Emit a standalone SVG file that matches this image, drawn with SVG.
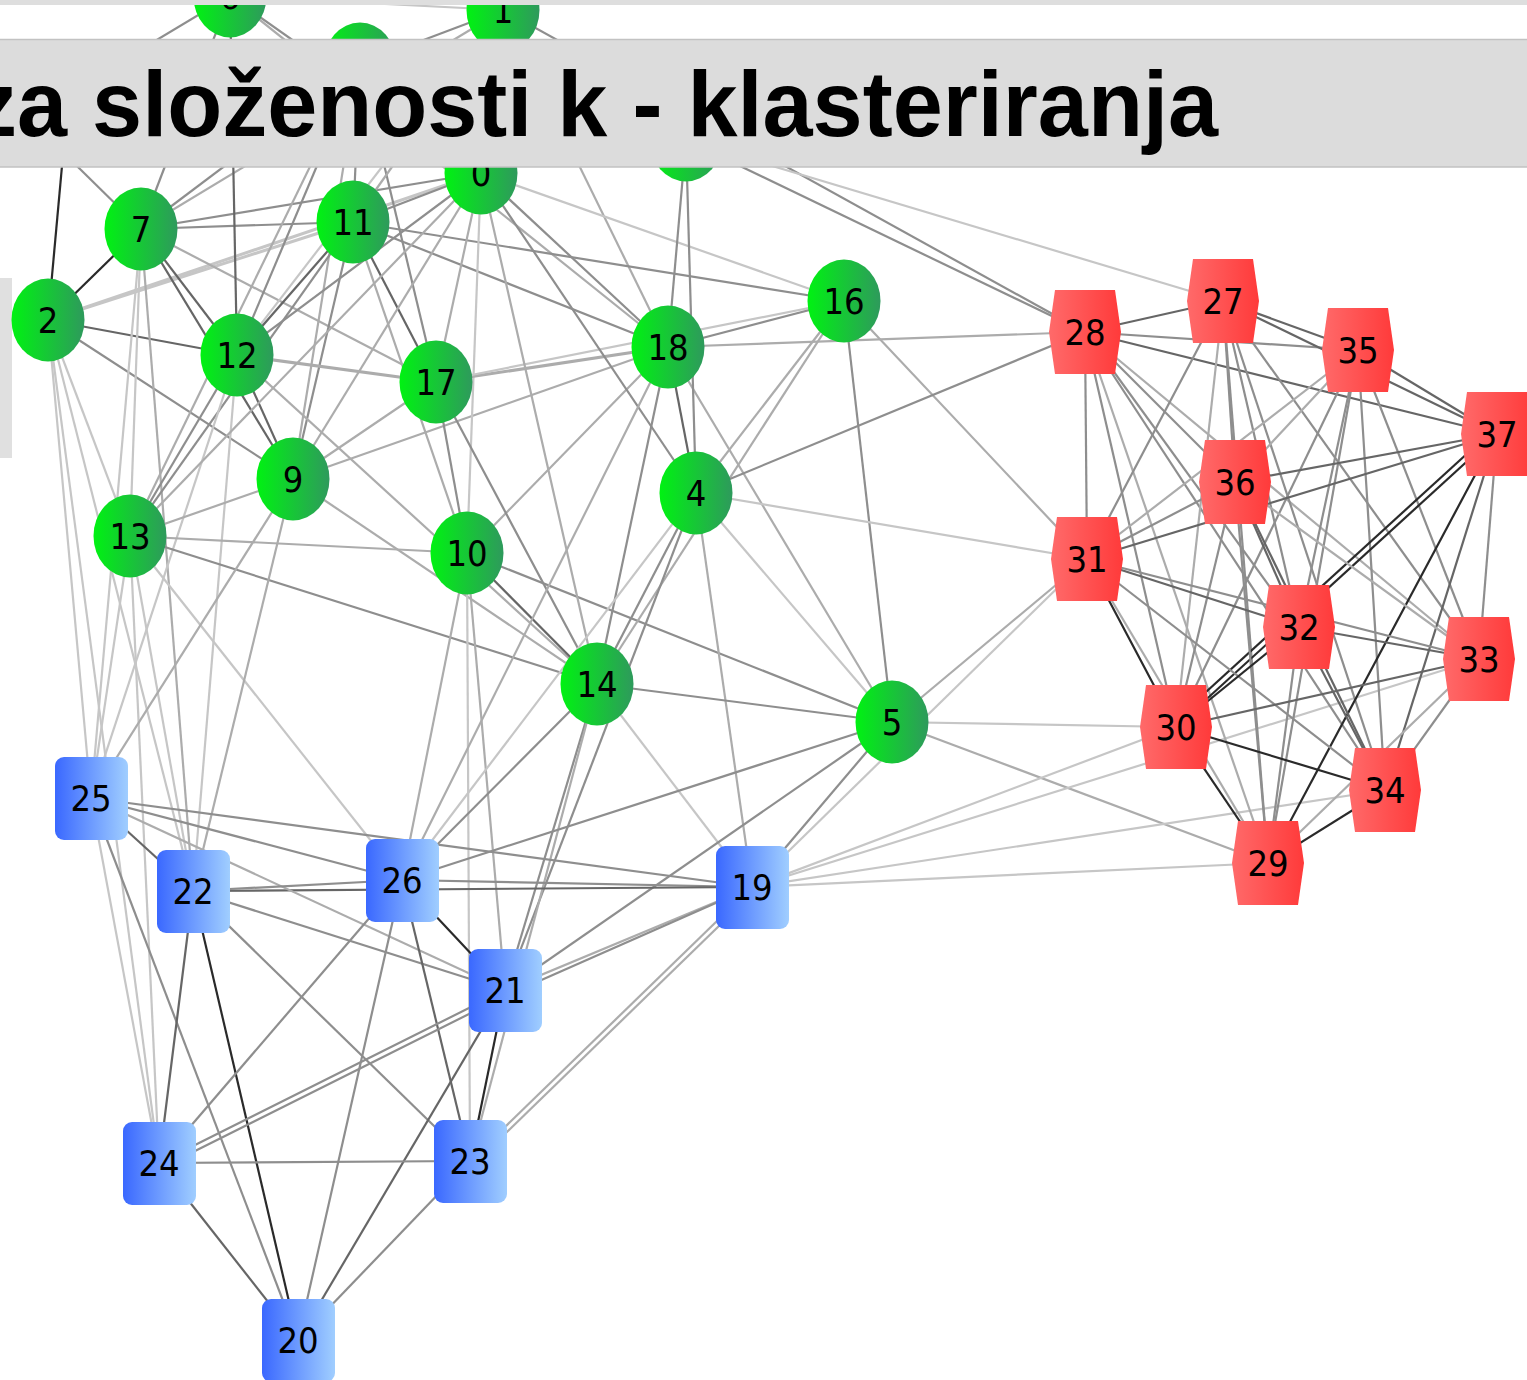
<svg xmlns="http://www.w3.org/2000/svg" width="1527" height="1380" viewBox="0 0 1527 1380">
<defs>
<linearGradient id="gGreen" x1="0" y1="0" x2="1" y2="0"><stop offset="0" stop-color="#00f212"/><stop offset="1" stop-color="#2e9a5c"/></linearGradient>
<linearGradient id="gBlue" x1="0" y1="0" x2="1" y2="0"><stop offset="0" stop-color="#3a68ff"/><stop offset="1" stop-color="#a0ceff"/></linearGradient>
<linearGradient id="gRed" x1="0" y1="0" x2="1" y2="0"><stop offset="0" stop-color="#ff6a6a"/><stop offset="1" stop-color="#ff3a3a"/></linearGradient>
<style>
.e line{stroke-width:2.2;fill:none}
.k{stroke:#2a2a2a}
.d{stroke:#666}
.m{stroke:#8e8e8e}
.l{stroke:#acacac}
.v{stroke:#c6c6c6}
.gn{fill:url(#gGreen)}
.bn{fill:url(#gBlue)}
.rn{fill:url(#gRed)}
.lb{font-family:"DejaVu Sans Condensed","DejaVu Sans",sans-serif;font-size:36px;fill:#000;text-anchor:middle}
.title{font-family:"Liberation Sans",Arial,sans-serif;font-size:92px;font-weight:bold;fill:#000}
</style>
</defs>
<rect width="1527" height="1380" fill="#fff"/>
<!-- side panel on the left edge -->
<rect x="0" y="278" width="12" height="180" fill="#e0e0e0"/>
<g id="edges" class="e">
<!-- green cluster -->
<line class="k" x1="48" y1="320" x2="141" y2="229"/>
<line class="k" x1="48" y1="320" x2="68" y2="100"/>
<line class="d" x1="48" y1="320" x2="237" y2="355"/>
<line class="v" x1="48" y1="320" x2="353" y2="222" style="stroke-width:3"/>
<line class="v" x1="48" y1="320" x2="481" y2="173" style="stroke-width:3"/>
<line class="m" x1="48" y1="320" x2="293" y2="479"/>
<line class="v" x1="48" y1="320" x2="130" y2="536"/>
<line class="v" x1="48" y1="320" x2="91" y2="798"/>
<line class="v" x1="48" y1="320" x2="193" y2="891"/>
<line class="v" x1="48" y1="320" x2="159" y2="1163"/>
<line class="m" x1="141" y1="229" x2="20" y2="110"/>
<line class="m" x1="141" y1="229" x2="230" y2="-4"/>
<line class="d" x1="141" y1="229" x2="237" y2="355"/>
<line class="d" x1="141" y1="229" x2="293" y2="479"/>
<line class="m" x1="141" y1="229" x2="353" y2="222"/>
<line class="m" x1="141" y1="229" x2="481" y2="173"/>
<line class="l" x1="141" y1="229" x2="503" y2="10"/>
<line class="m" x1="141" y1="229" x2="360" y2="64"/>
<line class="v" x1="141" y1="229" x2="130" y2="536"/>
<line class="l" x1="141" y1="229" x2="436" y2="382"/>
<line class="v" x1="141" y1="229" x2="91" y2="798"/>
<line class="l" x1="141" y1="229" x2="193" y2="891"/>
<line class="d" x1="230" y1="-4" x2="237" y2="355"/>
<line class="m" x1="230" y1="-4" x2="40" y2="110"/>
<line class="v" x1="230" y1="-4" x2="503" y2="10"/>
<line class="m" x1="230" y1="-4" x2="481" y2="173"/>
<line class="l" x1="230" y1="-4" x2="668" y2="347"/>
<line class="m" x1="360" y1="64" x2="503" y2="10"/>
<line class="m" x1="360" y1="64" x2="353" y2="222"/>
<line class="m" x1="360" y1="64" x2="237" y2="355"/>
<line class="l" x1="360" y1="64" x2="130" y2="536"/>
<line class="l" x1="360" y1="64" x2="481" y2="173"/>
<line class="l" x1="360" y1="64" x2="293" y2="479"/>
<line class="m" x1="360" y1="64" x2="436" y2="382"/>
<line class="l" x1="503" y1="10" x2="353" y2="222"/>
<line class="l" x1="503" y1="10" x2="481" y2="173"/>
<line class="v" x1="503" y1="10" x2="237" y2="355"/>
<line class="m" x1="503" y1="10" x2="1085" y2="332"/>
<line class="l" x1="503" y1="10" x2="668" y2="347"/>
<line class="d" x1="353" y1="222" x2="237" y2="355"/>
<line class="d" x1="353" y1="222" x2="436" y2="382"/>
<line class="m" x1="353" y1="222" x2="481" y2="173"/>
<line class="m" x1="353" y1="222" x2="130" y2="536"/>
<line class="m" x1="353" y1="222" x2="293" y2="479"/>
<line class="m" x1="353" y1="222" x2="844" y2="301"/>
<line class="m" x1="353" y1="222" x2="668" y2="347"/>
<line class="l" x1="353" y1="222" x2="467" y2="553"/>
<line class="l" x1="237" y1="355" x2="436" y2="382" style="stroke-width:3.2"/>
<line class="m" x1="237" y1="355" x2="130" y2="536"/>
<line class="d" x1="237" y1="355" x2="293" y2="479"/>
<line class="m" x1="237" y1="355" x2="481" y2="173"/>
<line class="v" x1="237" y1="355" x2="193" y2="891"/>
<line class="v" x1="237" y1="355" x2="91" y2="798"/>
<line class="l" x1="237" y1="355" x2="597" y2="684"/>
<line class="l" x1="130" y1="536" x2="293" y2="479"/>
<line class="l" x1="130" y1="536" x2="467" y2="553"/>
<line class="m" x1="130" y1="536" x2="597" y2="684"/>
<line class="l" x1="130" y1="536" x2="481" y2="173"/>
<line class="v" x1="130" y1="536" x2="91" y2="798"/>
<line class="v" x1="130" y1="536" x2="193" y2="891"/>
<line class="v" x1="130" y1="536" x2="159" y2="1163"/>
<line class="v" x1="130" y1="536" x2="402" y2="880"/>
<line class="l" x1="293" y1="479" x2="436" y2="382"/>
<line class="l" x1="293" y1="479" x2="481" y2="173"/>
<line class="l" x1="293" y1="479" x2="668" y2="347"/>
<line class="l" x1="293" y1="479" x2="597" y2="684"/>
<line class="l" x1="293" y1="479" x2="91" y2="798"/>
<line class="l" x1="293" y1="479" x2="193" y2="891"/>
<line class="m" x1="467" y1="553" x2="436" y2="382"/>
<line class="v" x1="467" y1="553" x2="481" y2="173"/>
<line class="d" x1="467" y1="553" x2="597" y2="684"/>
<line class="l" x1="467" y1="553" x2="668" y2="347"/>
<line class="m" x1="467" y1="553" x2="892" y2="722"/>
<line class="l" x1="467" y1="553" x2="402" y2="880"/>
<line class="l" x1="467" y1="553" x2="505" y2="990"/>
<line class="v" x1="467" y1="553" x2="470" y2="1161"/>
<line class="l" x1="436" y1="382" x2="668" y2="347" style="stroke-width:3"/>
<line class="l" x1="436" y1="382" x2="481" y2="173"/>
<line class="m" x1="436" y1="382" x2="597" y2="684"/>
<line class="v" x1="436" y1="382" x2="844" y2="301"/>
<line class="m" x1="481" y1="173" x2="668" y2="347"/>
<line class="m" x1="481" y1="173" x2="696" y2="493"/>
<line class="l" x1="481" y1="173" x2="597" y2="684"/>
<line class="v" x1="481" y1="173" x2="844" y2="301"/>
<line class="m" x1="668" y1="347" x2="844" y2="301"/>
<line class="d" x1="668" y1="347" x2="696" y2="493"/>
<line class="l" x1="668" y1="347" x2="1085" y2="332"/>
<line class="m" x1="668" y1="347" x2="597" y2="684"/>
<line class="l" x1="668" y1="347" x2="402" y2="880"/>
<line class="l" x1="668" y1="347" x2="892" y2="722"/>
<line class="m" x1="668" y1="347" x2="686" y2="140"/>
<line class="l" x1="844" y1="301" x2="696" y2="493"/>
<line class="l" x1="844" y1="301" x2="597" y2="684"/>
<line class="m" x1="844" y1="301" x2="892" y2="722"/>
<line class="l" x1="844" y1="301" x2="1087" y2="559"/>
<line class="m" x1="696" y1="493" x2="686" y2="140"/>
<line class="m" x1="696" y1="493" x2="597" y2="684"/>
<line class="m" x1="696" y1="493" x2="505" y2="990"/>
<line class="v" x1="696" y1="493" x2="892" y2="722"/>
<line class="v" x1="696" y1="493" x2="1087" y2="559"/>
<line class="m" x1="696" y1="493" x2="1085" y2="332"/>
<line class="v" x1="696" y1="493" x2="402" y2="880"/>
<line class="l" x1="696" y1="493" x2="752" y2="887"/>
<line class="m" x1="597" y1="684" x2="892" y2="722"/>
<line class="v" x1="597" y1="684" x2="752" y2="887"/>
<line class="m" x1="597" y1="684" x2="402" y2="880"/>
<line class="m" x1="597" y1="684" x2="505" y2="990"/>
<line class="l" x1="597" y1="684" x2="470" y2="1161"/>
<line class="v" x1="892" y1="722" x2="1176" y2="727"/>
<line class="l" x1="892" y1="722" x2="1087" y2="559"/>
<line class="l" x1="892" y1="722" x2="1268" y2="863"/>
<line class="m" x1="892" y1="722" x2="752" y2="887"/>
<line class="m" x1="892" y1="722" x2="505" y2="990"/>
<line class="m" x1="892" y1="722" x2="402" y2="880"/>
<line class="m" x1="686" y1="140" x2="1085" y2="332"/>
<line class="v" x1="686" y1="140" x2="1223" y2="301"/>
<!-- links from the blue group -->
<line class="v" x1="752" y1="887" x2="1268" y2="863"/>
<line class="v" x1="752" y1="887" x2="1385" y2="790"/>
<line class="v" x1="752" y1="887" x2="1176" y2="727"/>
<line class="v" x1="752" y1="887" x2="1087" y2="559"/>
<line class="v" x1="752" y1="887" x2="1479" y2="659"/>
<line class="m" x1="752" y1="887" x2="91" y2="798"/>
<line class="m" x1="752" y1="887" x2="402" y2="880"/>
<line class="d" x1="752" y1="887" x2="193" y2="891"/>
<line class="l" x1="752" y1="887" x2="505" y2="990"/>
<line class="m" x1="752" y1="887" x2="512" y2="993"/>
<line class="l" x1="752" y1="887" x2="470" y2="1161"/>
<line class="l" x1="756" y1="890" x2="474" y2="1164"/>
<line class="d" x1="91" y1="798" x2="193" y2="891"/>
<line class="m" x1="91" y1="798" x2="402" y2="880"/>
<line class="l" x1="91" y1="798" x2="505" y2="990"/>
<line class="v" x1="91" y1="798" x2="159" y2="1163"/>
<line class="m" x1="91" y1="798" x2="298" y2="1340"/>
<line class="m" x1="193" y1="891" x2="402" y2="880"/>
<line class="m" x1="193" y1="891" x2="505" y2="990"/>
<line class="m" x1="193" y1="891" x2="470" y2="1161"/>
<line class="d" x1="193" y1="891" x2="159" y2="1163"/>
<line class="k" x1="193" y1="891" x2="298" y2="1340"/>
<line class="k" x1="402" y1="880" x2="505" y2="990"/>
<line class="m" x1="402" y1="880" x2="159" y2="1163"/>
<line class="m" x1="402" y1="880" x2="298" y2="1340"/>
<line class="d" x1="402" y1="880" x2="470" y2="1161"/>
<line class="m" x1="505" y1="990" x2="159" y2="1163"/>
<line class="m" x1="509" y1="994" x2="163" y2="1167"/>
<line class="d" x1="505" y1="990" x2="298" y2="1340"/>
<line class="k" x1="505" y1="990" x2="470" y2="1161"/>
<line class="m" x1="159" y1="1163" x2="470" y2="1161"/>
<line class="d" x1="159" y1="1163" x2="298" y2="1340"/>
<line class="m" x1="470" y1="1161" x2="298" y2="1340"/>
<!-- red group -->
<line class="d" x1="1085" y1="332" x2="1223" y2="301"/>
<line class="m" x1="1085" y1="332" x2="1358" y2="350"/>
<line class="d" x1="1085" y1="332" x2="1497" y2="434"/>
<line class="m" x1="1085" y1="332" x2="1087" y2="559"/>
<line class="m" x1="1085" y1="332" x2="1176" y2="727"/>
<line class="m" x1="1085" y1="332" x2="1235" y2="482"/>
<line class="m" x1="1085" y1="332" x2="1299" y2="627"/>
<line class="l" x1="1085" y1="332" x2="1479" y2="659"/>
<line class="m" x1="1085" y1="332" x2="1385" y2="790"/>
<line class="l" x1="1085" y1="332" x2="1268" y2="863"/>
<line class="d" x1="1223" y1="301" x2="1358" y2="350"/>
<line class="d" x1="1223" y1="301" x2="1497" y2="434"/>
<line class="m" x1="1223" y1="301" x2="1235" y2="482"/>
<line class="m" x1="1223" y1="301" x2="1299" y2="627"/>
<line class="m" x1="1223" y1="301" x2="1385" y2="790"/>
<line class="m" x1="1223" y1="301" x2="1268" y2="863"/>
<line class="l" x1="1223" y1="301" x2="1176" y2="727"/>
<line class="m" x1="1223" y1="301" x2="1087" y2="559"/>
<line class="m" x1="1223" y1="301" x2="1479" y2="659"/>
<line class="d" x1="1358" y1="350" x2="1497" y2="434"/>
<line class="l" x1="1358" y1="350" x2="1235" y2="482"/>
<line class="l" x1="1358" y1="350" x2="1087" y2="559"/>
<line class="m" x1="1358" y1="350" x2="1176" y2="727"/>
<line class="m" x1="1358" y1="350" x2="1299" y2="627"/>
<line class="m" x1="1358" y1="350" x2="1385" y2="790"/>
<line class="m" x1="1358" y1="350" x2="1479" y2="659"/>
<line class="m" x1="1358" y1="350" x2="1268" y2="863"/>
<line class="d" x1="1497" y1="434" x2="1235" y2="482"/>
<line class="d" x1="1497" y1="434" x2="1087" y2="559"/>
<line class="k" x1="1497" y1="434" x2="1176" y2="727"/>
<line class="k" x1="1493" y1="430" x2="1172" y2="723"/>
<line class="k" x1="1497" y1="434" x2="1268" y2="863"/>
<line class="d" x1="1497" y1="434" x2="1385" y2="790"/>
<line class="m" x1="1497" y1="434" x2="1479" y2="659"/>
<line class="m" x1="1235" y1="482" x2="1087" y2="559"/>
<line class="m" x1="1235" y1="482" x2="1176" y2="727"/>
<line class="d" x1="1235" y1="482" x2="1299" y2="627"/>
<line class="m" x1="1235" y1="482" x2="1268" y2="863"/>
<line class="d" x1="1235" y1="482" x2="1385" y2="790"/>
<line class="l" x1="1235" y1="482" x2="1479" y2="659"/>
<line class="d" x1="1087" y1="559" x2="1299" y2="627"/>
<line class="k" x1="1087" y1="559" x2="1176" y2="727"/>
<line class="m" x1="1087" y1="559" x2="1479" y2="659"/>
<line class="m" x1="1087" y1="559" x2="1385" y2="790"/>
<line class="l" x1="1087" y1="559" x2="1268" y2="863"/>
<line class="d" x1="1299" y1="627" x2="1479" y2="659"/>
<line class="k" x1="1299" y1="627" x2="1176" y2="727"/>
<line class="d" x1="1299" y1="627" x2="1385" y2="790"/>
<line class="m" x1="1299" y1="627" x2="1268" y2="863"/>
<line class="d" x1="1176" y1="727" x2="1479" y2="659"/>
<line class="k" x1="1176" y1="727" x2="1385" y2="790"/>
<line class="k" x1="1176" y1="727" x2="1268" y2="863"/>
<line class="m" x1="1479" y1="659" x2="1385" y2="790"/>
<line class="l" x1="1479" y1="659" x2="1268" y2="863"/>
<line class="k" x1="1385" y1="790" x2="1268" y2="863"/>
</g>
<!-- green nodes -->
<g id="n6"><ellipse class="gn" cx="230" cy="-4" rx="36.5" ry="41.5"/><text class="lb" x="230" y="9">6</text></g>
<g id="n1"><ellipse class="gn" cx="503" cy="10" rx="36.5" ry="41.5"/><text class="lb" x="503" y="23">1</text></g>
<g id="n15"><ellipse class="gn" cx="360" cy="64" rx="36.5" ry="41.5"/></g>
<g id="n8"><ellipse class="gn" cx="686" cy="140" rx="36.5" ry="41.5"/></g>
<g id="n0"><ellipse class="gn" cx="481" cy="173" rx="36.5" ry="41.5"/><text class="lb" x="481" y="186">0</text></g>
<g id="n7"><ellipse class="gn" cx="141" cy="229" rx="36.5" ry="41.5"/><text class="lb" x="141" y="242">7</text></g>
<g id="n11"><ellipse class="gn" cx="353" cy="222" rx="36.5" ry="41.5"/><text class="lb" x="353" y="235">11</text></g>
<g id="n2"><ellipse class="gn" cx="48" cy="320" rx="36.5" ry="41.5"/><text class="lb" x="48" y="333">2</text></g>
<g id="n12"><ellipse class="gn" cx="237" cy="355" rx="36.5" ry="41.5"/><text class="lb" x="237" y="368">12</text></g>
<g id="n17"><ellipse class="gn" cx="436" cy="382" rx="36.5" ry="41.5"/><text class="lb" x="436" y="395">17</text></g>
<g id="n18"><ellipse class="gn" cx="668" cy="347" rx="36.5" ry="41.5"/><text class="lb" x="668" y="360">18</text></g>
<g id="n16"><ellipse class="gn" cx="844" cy="301" rx="36.5" ry="41.5"/><text class="lb" x="844" y="314">16</text></g>
<g id="n9"><ellipse class="gn" cx="293" cy="479" rx="36.5" ry="41.5"/><text class="lb" x="293" y="492">9</text></g>
<g id="n13"><ellipse class="gn" cx="130" cy="536" rx="36.5" ry="41.5"/><text class="lb" x="130" y="549">13</text></g>
<g id="n10"><ellipse class="gn" cx="467" cy="553" rx="36.5" ry="41.5"/><text class="lb" x="467" y="566">10</text></g>
<g id="n4"><ellipse class="gn" cx="696" cy="493" rx="36.5" ry="41.5"/><text class="lb" x="696" y="506">4</text></g>
<g id="n14"><ellipse class="gn" cx="597" cy="684" rx="36.5" ry="41.5"/><text class="lb" x="597" y="697">14</text></g>
<g id="n5"><ellipse class="gn" cx="892" cy="722" rx="36.5" ry="41.5"/><text class="lb" x="892" y="735">5</text></g>
<!-- blue nodes -->
<g id="n25"><rect class="bn" x="55" y="757" width="73" height="83" rx="9"/><text class="lb" x="91" y="811">25</text></g>
<g id="n22"><rect class="bn" x="157" y="850" width="73" height="83" rx="9"/><text class="lb" x="193" y="904">22</text></g>
<g id="n26"><rect class="bn" x="366" y="839" width="73" height="83" rx="9"/><text class="lb" x="402" y="893">26</text></g>
<g id="n19"><rect class="bn" x="716" y="846" width="73" height="83" rx="9"/><text class="lb" x="752" y="900">19</text></g>
<g id="n21"><rect class="bn" x="469" y="949" width="73" height="83" rx="9"/><text class="lb" x="505" y="1003">21</text></g>
<g id="n24"><rect class="bn" x="123" y="1122" width="73" height="83" rx="9"/><text class="lb" x="159" y="1176">24</text></g>
<g id="n23"><rect class="bn" x="434" y="1120" width="73" height="83" rx="9"/><text class="lb" x="470" y="1174">23</text></g>
<g id="n20"><rect class="bn" x="262" y="1299" width="73" height="83" rx="9"/><text class="lb" x="298" y="1353">20</text></g>
<!-- red nodes -->
<g id="n28"><polygon class="rn" points="1055,290 1115,290 1121,332 1115,374 1055,374 1049,332"/><text class="lb" x="1085" y="345">28</text></g>
<g id="n27"><polygon class="rn" points="1193,259 1253,259 1259,301 1253,343 1193,343 1187,301"/><text class="lb" x="1223" y="314">27</text></g>
<g id="n35"><polygon class="rn" points="1328,308 1388,308 1394,350 1388,392 1328,392 1322,350"/><text class="lb" x="1358" y="363">35</text></g>
<g id="n37"><polygon class="rn" points="1467,392 1527,392 1533,434 1527,476 1467,476 1461,434"/><text class="lb" x="1497" y="447">37</text></g>
<g id="n36"><polygon class="rn" points="1205,440 1265,440 1271,482 1265,524 1205,524 1199,482"/><text class="lb" x="1235" y="495">36</text></g>
<g id="n31"><polygon class="rn" points="1057,517 1117,517 1123,559 1117,601 1057,601 1051,559"/><text class="lb" x="1087" y="572">31</text></g>
<g id="n32"><polygon class="rn" points="1269,585 1329,585 1335,627 1329,669 1269,669 1263,627"/><text class="lb" x="1299" y="640">32</text></g>
<g id="n33"><polygon class="rn" points="1449,617 1509,617 1515,659 1509,701 1449,701 1443,659"/><text class="lb" x="1479" y="672">33</text></g>
<g id="n30"><polygon class="rn" points="1146,685 1206,685 1212,727 1206,769 1146,769 1140,727"/><text class="lb" x="1176" y="740">30</text></g>
<g id="n34"><polygon class="rn" points="1355,748 1415,748 1421,790 1415,832 1355,832 1349,790"/><text class="lb" x="1385" y="803">34</text></g>
<g id="n29"><polygon class="rn" points="1238,821 1298,821 1304,863 1298,905 1238,905 1232,863"/><text class="lb" x="1268" y="876">29</text></g>
<!-- slide chrome: top strip and title bar -->
<rect x="0" y="0" width="1527" height="5" fill="#dedede"/>
<rect x="-2" y="39.5" width="1531" height="127.5" fill="#dcdcdc" stroke="#c2c2c2" stroke-width="1.5"/>
<text class="title" x="-28" y="136" textLength="1246" lengthAdjust="spacingAndGlyphs">za složenosti k - klasteriranja</text>
</svg>
